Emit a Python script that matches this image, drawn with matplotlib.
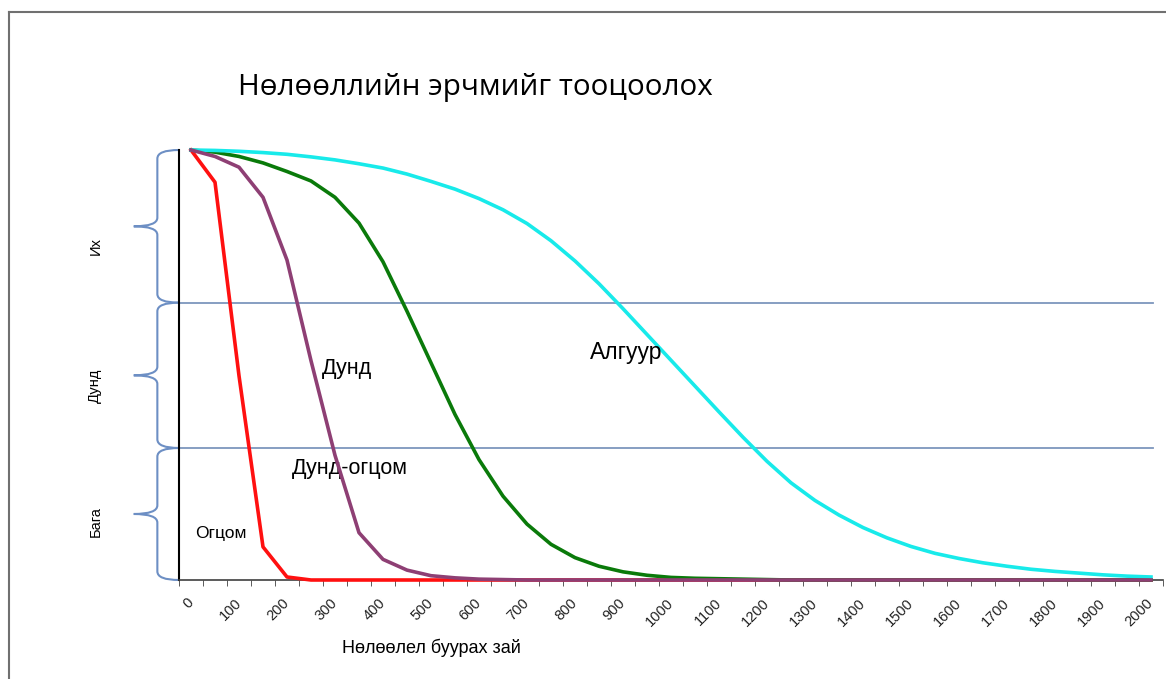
import matplotlib.pyplot as plt
from matplotlib.path import Path
from matplotlib.patches import PathPatch
from matplotlib.lines import Line2D
import matplotlib.transforms as mtransforms

# distance, step 50
dist = list(range(0, 2001, 50))

ogtsom = [1.0, 0.925, 0.475, 0.077, 0.007] + [0.0] * 36
dund_ogtsom = [1.0, 0.985, 0.96, 0.89, 0.744, 0.51, 0.29, 0.11, 0.048, 0.023,
               0.01, 0.005, 0.002, 0.001] + [0.0] * 27
dund = [1.0, 0.995, 0.985, 0.97, 0.95, 0.928, 0.89, 0.83, 0.74, 0.625,
        0.505, 0.385, 0.28, 0.195, 0.13, 0.083, 0.052, 0.032, 0.019, 0.011,
        0.006, 0.004, 0.003, 0.002, 0.001] + [0.0] * 16
alguur = [1.0, 0.999, 0.997, 0.994, 0.99, 0.984, 0.977, 0.968, 0.958, 0.944,
          0.927, 0.909, 0.887, 0.861, 0.829, 0.789, 0.742, 0.689, 0.631, 0.571,
          0.511, 0.451, 0.391, 0.332, 0.276, 0.226, 0.185, 0.151, 0.122, 0.098,
          0.078, 0.062, 0.05, 0.04, 0.032, 0.025, 0.02, 0.016, 0.012, 0.009,
          0.007]

levels = [0.0, 0.307, 0.645, 1.0]
level_names = ['Бага', 'Дунд', 'Их']
xtick_vals = list(range(0, 2001, 100))

fig = plt.figure(figsize=(11.66, 6.79), dpi=100)
ax = fig.add_axes([179 / 1166, 99 / 679, 984 / 1166, 430 / 679])
ax.set_xlim(-25, 2025)
ax.set_ylim(0, 1)

for y in levels[1:3]:
    ax.axhline(y, color='#7d96bd', lw=1.3, xmax=0.99, zorder=1)

ax.plot(dist, ogtsom, color='#ff1010', lw=2.6, clip_on=False, zorder=3)
ax.plot(dist, dund, color='#0a7a0a', lw=2.6, clip_on=False, zorder=3)
ax.plot(dist, alguur, color='#18eaea', lw=2.6, clip_on=False, zorder=3)
ax.plot(dist, dund_ogtsom, color='#8e3f74', lw=2.6, clip_on=False, zorder=4)

for s in ['top', 'right']:
    ax.spines[s].set_visible(False)
ax.spines['left'].set_color('black')
ax.spines['left'].set_linewidth(1.5)
ax.spines['bottom'].set_color('#404040')
ax.spines['bottom'].set_linewidth(1.2)
ax.set_yticks([])
ax.set_xticks(xtick_vals)
ax.set_xticklabels([str(v) for v in xtick_vals], rotation=45, ha='right',
                   va='center', rotation_mode='anchor', fontsize=10.5,
                   family='Liberation Sans', color='#222222')
ax.tick_params(axis='x', length=0, pad=15)
ax.set_xticks(list(range(-25, 2026, 50)), minor=True)
ax.tick_params(axis='x', which='minor', length=4, direction='out', color='#404040')

# braces on the left
bt = mtransforms.blended_transform_factory(ax.transAxes, ax.transData)
xe, xl, xt = 0.0, -0.022, -0.046
r = 0.02
for lo, hi in zip(levels[:-1], levels[1:]):
    mid = (lo + hi) / 2
    verts = [(xe, hi), (xl, hi), (xl, hi - r),
             (xl, mid + r),
             (xl, mid), (xt, mid), (xt, mid),
             (xl, mid), (xl, mid - r),
             (xl, lo + r),
             (xl, lo), (xe, lo)]
    codes = [Path.MOVETO, Path.CURVE3, Path.CURVE3,
             Path.LINETO,
             Path.CURVE3, Path.CURVE3, Path.MOVETO,
             Path.CURVE3, Path.CURVE3,
             Path.LINETO,
             Path.CURVE3, Path.CURVE3]
    ax.add_patch(PathPatch(Path(verts, codes), transform=bt, fill=False,
                           edgecolor='#6d8fc4', lw=1.5, clip_on=False))

for name, yy in zip(level_names, [0.135, 0.451, 0.777]):
    ax.text(-0.085, yy, name, transform=bt, rotation=90, ha='center',
            va='center', fontsize=10.5, family='Liberation Sans')

fig.text(238 / 1166, 1 - 88 / 679, 'Нөлөөллийн эрчмийг тооцоолох', ha='left',
         va='center', fontsize=21.3, family='Open Sans')
fig.text(431 / 1166, 1 - 648 / 679, 'Нөлөөлел буурах зай', ha='center',
         va='center', fontsize=13, family='Liberation Sans')

ax.text(273, 0.493, 'Дунд', fontsize=15.5, family='Liberation Sans', va='center')
ax.text(210, 0.26, 'Дунд-огцом', fontsize=15.5, family='Liberation Sans', va='center')
ax.text(831, 0.528, 'Алгуур', fontsize=16.5, family='Liberation Sans', va='center')
ax.text(8, 0.109, 'Огцом', fontsize=12.5, family='Liberation Sans', va='center')

# outer frame
fig.add_artist(Line2D([9 / 1166, 9 / 1166], [0, 1 - 12 / 679], transform=fig.transFigure,
                      color='#707070', lw=1.5))
fig.add_artist(Line2D([9 / 1166, 1], [1 - 12 / 679, 1 - 12 / 679], transform=fig.transFigure,
                      color='#707070', lw=1.5))

fig.savefig('out.png', dpi=100)
